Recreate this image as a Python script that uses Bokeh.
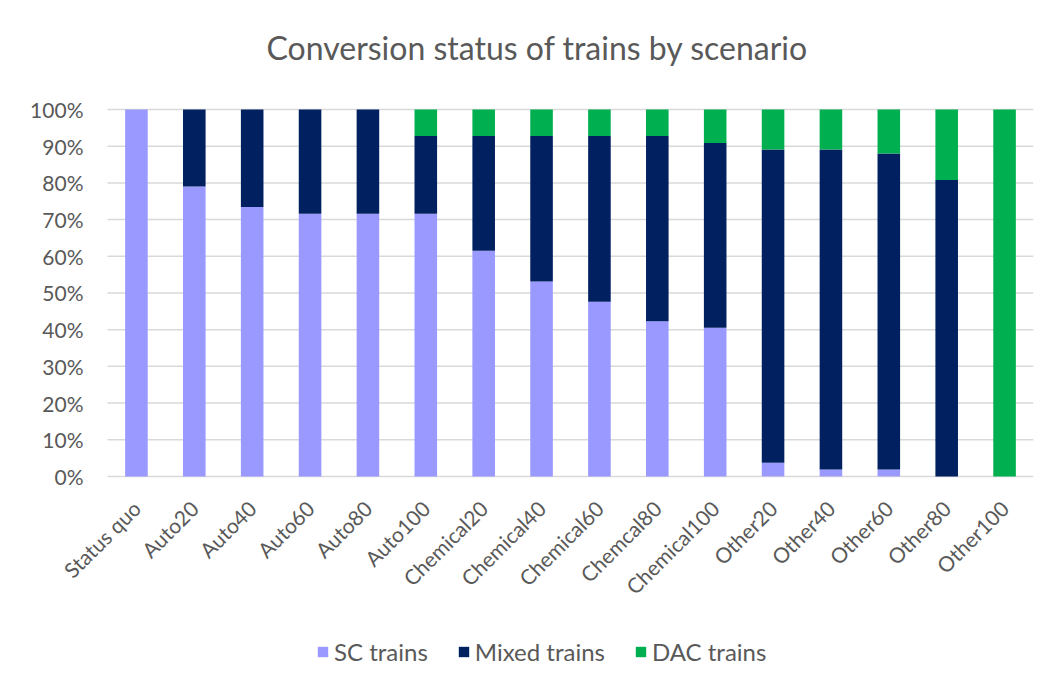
from bokeh.plotting import figure
from bokeh.models import ColumnDataSource, Legend, LegendItem, Range1d
from bokeh.core.properties import value
from bokeh.embed import file_html
from bokeh.resources import INLINE
import math

scenarios = ["Status quo", "Auto20", "Auto40", "Auto60", "Auto80", "Auto100",
             "Chemical20", "Chemical40", "Chemical60", "Chemcal80", "Chemical100",
             "Other20", "Other40", "Other60", "Other80", "Other100"]
sc_trains = [1.00, 0.79, 0.734, 0.716, 0.716, 0.716, 0.615, 0.531, 0.476, 0.423, 0.405,
             0.037, 0.019, 0.019, 0.0, 0.0]
mixed_trains = [0.0, 0.21, 0.266, 0.284, 0.284, 0.212, 0.313, 0.397, 0.452, 0.505, 0.504,
                0.854, 0.872, 0.861, 0.808, 0.0]
dac_trains = [0.0, 0.0, 0.0, 0.0, 0.0, 0.072, 0.072, 0.072, 0.072, 0.072, 0.091,
              0.109, 0.109, 0.12, 0.192, 1.0]
y_ticks = [0.0, 0.1, 0.2, 0.3, 0.4, 0.5, 0.6, 0.7, 0.8, 0.9, 1.0]
y_tick_labels = ["0%", "10%", "20%", "30%", "40%", "50%", "60%", "70%", "80%", "90%", "100%"]
series = ["SC trains", "Mixed trains", "DAC trains"]
colors = ["#9999FF", "#002060", "#00B050"]

n = len(scenarios)
idx = list(range(n))
source = ColumnDataSource(dict(x=idx, name=scenarios, sc=sc_trains, mixed=mixed_trains,
                               dac=dac_trains, base=[0.0] * n))
grid_src = ColumnDataSource(dict(y=y_ticks, label=y_tick_labels,
                                 x0=[-0.5] * len(y_ticks), x1=[n - 0.5] * len(y_ticks)))

FONT = "Lato"
GRAY = "#595959"

# the frame extends around the bars so the rotated labels, value labels and legend are not clipped
p = figure(x_range=Range1d(-2.003, n - 0.5), y_range=Range1d(-0.529, 1.0518), width=1052, height=684,
           output_backend="svg", toolbar_location=None, x_axis_location=None, y_axis_location=None,
           min_border_left=20, min_border_right=19, min_border_top=90, min_border_bottom=14,
           border_fill_color="white")
p.title.text = "Conversion status of trains by scenario"
p.title.text_font = FONT
p.title.text_font_size = "32px"
p.title.text_font_style = "normal"
p.title.text_color = GRAY
p.title.align = "left"
p.title.offset = 246
p.title.standoff = 47
p.outline_line_color = None
p.grid.visible = False

# horizontal gridlines (the one at 0% acts as the category axis line)
p.segment(x0="x0", x1="x1", y0="y", y1="y", source=grid_src, line_color="#D9D9D9", line_width=1.5)

renderers = p.vbar_stack(["sc", "mixed", "dac"], x="x", width=0.39, source=source,
                         color=colors, line_color=None)

# value axis labels
p.text(x="x0", y="y", text="label", source=grid_src, x_offset=-24,
       text_align="right", text_baseline="middle",
       text_font=value(FONT), text_font_size="21px", text_color=GRAY)

# category labels, rotated 45 degrees under the zero line
p.text(x="x", y="base", text="name", source=source, angle=math.pi / 4,
       text_align="right", text_baseline="middle", y_offset=28, x_offset=0,
       text_font=value(FONT), text_font_size="21px", text_color=GRAY)

legend = Legend(items=[LegendItem(label=s, renderers=[r]) for s, r in zip(series, renderers)],
                orientation="horizontal", location=(296, 4),
                label_text_font=FONT, label_text_font_size="24px", label_text_color=GRAY,
                glyph_width=13, glyph_height=13, spacing=29, border_line_color=None,
                background_fill_alpha=0, padding=0, margin=0, label_standoff=5)
p.add_layout(legend, "center")

open("out.html", "w").write(file_html(p, INLINE))
